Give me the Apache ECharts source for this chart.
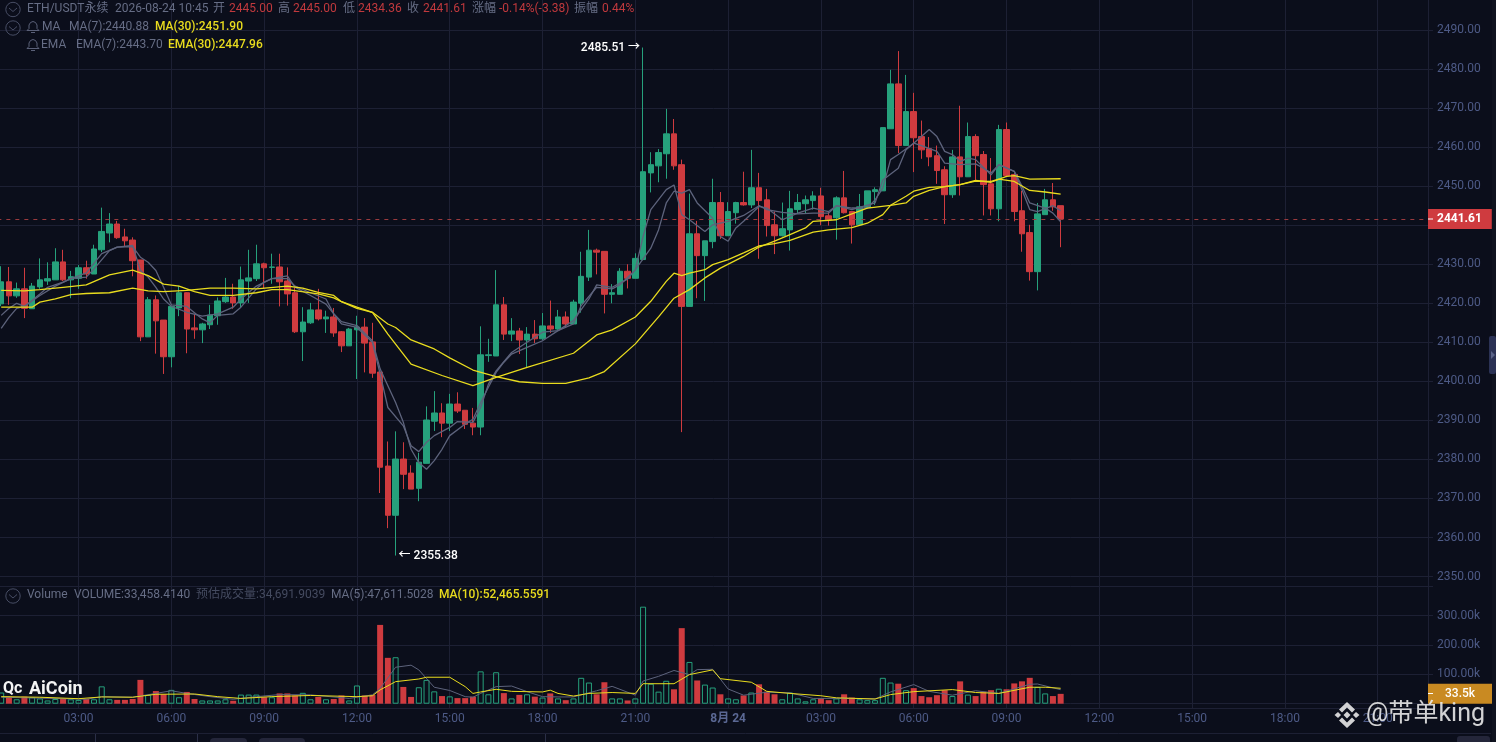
<!DOCTYPE html>
<html><head><meta charset="utf-8">
<style>html,body{margin:0;padding:0;background:#0b0e1b;overflow:hidden}#c{width:1496px;height:742px}</style>
<script src="https://cdn.jsdelivr.net/npm/echarts@6/dist/echarts.min.js"></script>
</head><body><div id="c"></div>
<script>
// ---- data (15-minute candles from 08-23 00:30) ----
const opens=[2419.85,2425.5,2421.9,2423.7,2418.6,2424.2,2425.7,2426,2430.6,2426,2426.4,2429.1,2427.5,2433.7,2438,2440.3,2437,2436.2,2431.1,2411.4,2420.9,2415.7,2406.3,2418.8,2422.7,2413.7,2413.2,2414.5,2416.8,2420.4,2421.6,2420.1,2425.7,2426.3,2430.1,2429.2,2429.3,2425.7,2422.7,2412.7,2415,2418.3,2416,2416.5,2412.7,2409.1,2413.2,2413.9,2410.1,2402.4,2378.3,2365.7,2380.1,2376.5,2372.6,2379,2389.8,2391.9,2389.3,2394.2,2392.6,2389.3,2388.3,2406.6,2406.5,2419.6,2412.1,2412.9,2410.6,2412.1,2410.9,2414.2,2413.4,2416.5,2414.7,2420,2426.7,2433.6,2433.3,2422.3,2422.3,2428.2,2426.4,2431.2,2453.4,2455.2,2458.3,2463.4,2455.5,2419.2,2437.8,2432.2,2435.8,2445.8,2437.3,2443.2,2445.8,2445.2,2449.6,2446.5,2440.1,2437.3,2438.8,2444,2445.5,2446.3,2447.5,2442.4,2441.9,2447,2443.5,2440.1,2444.5,2448.6,2448.8,2464.7,2476.2,2460.4,2469.1,2462.7,2459.6,2457.8,2454.2,2447.8,2457.5,2452.4,2462.7,2458.1,2450.6,2444.2,2464.5,2453,2443.7,2438.1,2428.1,2442.7,2446.5,2445];
const closes=[2425.5,2421.9,2423.7,2418.7,2424.4,2426,2426.3,2430.6,2426,2426.8,2429.1,2427.5,2433.9,2438.4,2440.3,2436.8,2436,2430.9,2411.4,2420.9,2415.5,2406.3,2419.2,2422.7,2413.4,2413.2,2414.7,2417,2420.6,2421.6,2420.1,2426,2426.5,2430.1,2429.1,2429.3,2425.5,2422.4,2412.7,2415.2,2418.3,2416,2416.5,2412.4,2409.1,2413.4,2413.9,2409.8,2402.1,2378,2365.7,2380.1,2376.2,2372.4,2379.3,2390.1,2391.9,2389.3,2394.2,2392.4,2389,2388.3,2406.8,2406.8,2419.6,2412.1,2412.9,2410.6,2412.1,2410.9,2414.2,2413.4,2416.5,2414.7,2420.3,2426.9,2433.6,2433.1,2422.3,2422.7,2428.2,2426.4,2431.5,2453.7,2455.5,2458.6,2463.4,2455.2,2419.2,2437.8,2432.2,2436,2445.8,2437.3,2443.5,2445.8,2445.2,2449.6,2446.3,2439.9,2437.3,2439.1,2444.2,2445.8,2446.5,2447.5,2442.2,2441.4,2447,2443.2,2440.1,2444.7,2448.8,2449.1,2465,2476.2,2460.4,2469.1,2462.4,2459.3,2457.5,2454,2447.8,2457.5,2452.4,2462.7,2457.8,2450.4,2444.2,2464.5,2452.7,2443.5,2437.8,2428.1,2442.9,2446.5,2444.7,2441.61];
const lows=[2419.25,2419.6,2421.4,2416.2,2418.6,2423.7,2424.7,2426,2425.7,2421.3,2423.7,2426.3,2427.5,2433.1,2435.6,2436.5,2434.4,2426.9,2410.3,2411.4,2407.1,2401.9,2403.6,2416.7,2407.2,2410.9,2409.8,2413.4,2414.5,2420.1,2418.6,2419,2420.1,2425.7,2423.7,2425,2419.2,2419.4,2412.4,2405.2,2414.7,2415.6,2412.4,2411.4,2407.5,2409.1,2400.6,2402.3,2400.9,2371.4,2362.4,2355.38,2372.4,2372.4,2369.3,2379,2387.3,2385.7,2387.3,2391.9,2387.8,2386.2,2386.2,2405,2406.5,2410.6,2410.3,2407,2403.6,2409.8,2410.6,2412.4,2413.2,2413.8,2414.7,2417.6,2425.7,2427.4,2417.4,2420,2422.3,2423.8,2426.4,2431,2448.4,2451,2451.9,2454.2,2387,2419.2,2421.3,2420.6,2434.1,2436.5,2437.3,2440.4,2445,2444.4,2431.4,2437.1,2432.6,2437.1,2433.5,2443,2443.1,2444,2440,2439.9,2436.3,2443,2435.3,2440.1,2444.5,2445.2,2448.8,2464.7,2458.5,2460.4,2453.6,2457,2455.1,2450.6,2440.3,2447,2447.6,2452.4,2451.6,2442.5,2442.5,2441,2452.5,2441,2433.2,2425.8,2423.3,2442.7,2443.7,2434.36];
const highs=[2429.5,2429.3,2425.3,2429.1,2425.2,2431.5,2430.5,2434.1,2433.7,2428.3,2429.8,2430.9,2435,2444.5,2443.1,2441.1,2439.1,2436.9,2431.1,2421.6,2422,2415.7,2419.2,2424.5,2422.8,2417.3,2415,2419.6,2421.5,2426.5,2425,2429.4,2433.7,2435,2430.4,2432.7,2432.7,2429.2,2423.9,2419,2420.1,2423.7,2418.1,2418.8,2412.9,2413.7,2416.8,2416.2,2415,2402.4,2384.6,2387.2,2384.4,2378.5,2381.7,2393.6,2397.5,2394.4,2396.8,2397.2,2392.6,2393.2,2414.1,2410.9,2428.5,2421.6,2416.2,2413.7,2413.9,2415.7,2417.5,2420.7,2418.3,2417.9,2420.9,2433.2,2438.8,2434,2433.3,2424.9,2429,2430,2432.8,2485.51,2458.7,2459.5,2469.8,2467.2,2456.8,2448.1,2441.1,2436,2451.9,2448.5,2445.9,2446,2453.7,2459.3,2453.4,2449.3,2443.5,2445.8,2448.8,2448,2447.6,2448.7,2449.6,2443.5,2447.4,2453.9,2443.5,2448,2448.8,2449.7,2465,2479.8,2484.6,2478.5,2473.9,2466.8,2462.6,2460.4,2455.1,2459.3,2470.6,2466.3,2463.3,2459,2457.2,2465.7,2466.3,2453.5,2448.8,2440.1,2445.7,2449.3,2450.8,2445];
const volumes=[38000,24000,15000,24000,22000,18000,11000,16000,16000,15000,13000,16000,15000,59000,15000,13000,13000,16000,81000,30000,43000,32000,47000,22000,40000,16000,11000,11000,11000,15000,10000,31000,31000,31000,22000,22000,35000,35000,28000,37000,15000,23000,15000,16000,28000,11000,62000,28000,30000,268000,156000,158000,57000,23000,56000,81000,42000,26000,25000,19000,19000,24000,110000,32000,107000,36000,18000,30000,32000,24000,21000,35000,18000,12000,18000,88000,72000,32000,73000,18000,18000,11000,18000,330000,68000,41000,78000,49000,257000,142000,79000,65000,55000,32000,18000,15000,28000,38000,66000,41000,32000,15000,38000,18000,8000,15000,18000,12000,18000,32000,21000,15000,12000,12000,88000,72000,68000,46000,53000,26000,22000,29000,46000,26000,76000,31000,26000,41000,46000,51000,49000,69000,76000,88000,57000,35000,26000,33458];
// indicator lines, read as [candle index, value] at the points where they bend
const ma7=[[0,2413.6],[1,2416.4],[2,2418.7],[3,2419.2],[5,2422.4],[6,2424.1],[8,2425.4],[9,2426.3],[11,2426.7],[12,2428.8],[14,2433.5],[15,2434.4],[17,2434.5],[18,2431.8],[19,2430.5],[20,2428.4],[21,2424.1],[22,2419.6],[24,2419.2],[26,2416],[27,2415],[28,2416.9],[30,2417.3],[31,2419],[33,2423.7],[34,2425.4],[35,2426.3],[37,2427],[38,2424.1],[40,2422],[42,2419.8],[43,2417.3],[44,2415.3],[46,2414.3],[48,2410.4],[49,2403.2],[50,2398.9],[51,2394.6],[52,2389.5],[53,2382.6],[54,2379.2],[55,2377.5],[56,2379.7],[57,2382.6],[58,2386.1],[60,2389.1],[61,2390.3],[62,2394.6],[63,2398.5],[64,2402.3],[65,2404.9],[66,2407],[68,2408.7],[70,2410.4],[72,2413],[74,2414.7],[75,2419.4],[77,2424.1],[79,2423.7],[80,2424.7],[82,2428.6],[84,2434.1],[85,2438.8],[86,2445.7],[87,2448.7],[88,2448.2],[89,2449.1],[90,2445.7],[92,2441.8],[93,2437.1],[94,2435.9],[95,2439.3],[96,2441],[98,2444.8],[99,2444.4],[101,2441.4],[103,2443.1],[105,2444.4],[107,2443.5],[108,2445],[110,2444],[113,2445.7],[114,2451.6],[116,2454.6],[117,2459.3],[118,2461],[120,2464.5],[121,2462.7],[122,2458.9],[123,2458.1],[124,2456.3],[125,2457.2],[126,2456.8],[128,2452.9],[129,2455.5],[131,2453.8],[132,2450],[133,2445.7],[135,2444.4],[136,2443.1],[137,2440.88]];
const ema7=[[0,2416.9],[1,2418.7],[2,2420],[3,2419.2],[5,2422],[7,2424.4],[9,2426.3],[11,2427.8],[13,2432.7],[15,2434.4],[17,2434.8],[18,2428.4],[19,2426.7],[20,2424.1],[21,2421.1],[22,2419.2],[24,2417.7],[26,2416.7],[28,2417.3],[30,2419],[31,2421.1],[33,2424.4],[35,2426.3],[37,2426.3],[38,2424.4],[40,2422.7],[42,2421.1],[43,2417.3],[44,2414.7],[46,2413.8],[48,2410],[49,2401.9],[50,2393.3],[52,2388.6],[53,2383.5],[54,2382],[55,2384.4],[56,2386.1],[58,2388.2],[59,2389.7],[61,2389.5],[62,2393.3],[63,2399.3],[64,2402.7],[66,2407.4],[68,2410],[70,2412.6],[72,2413],[74,2415.6],[76,2421.1],[77,2424.7],[79,2424.1],[81,2426.2],[82,2428.6],[83,2437.1],[84,2444],[86,2449.1],[87,2450.3],[88,2442.7],[89,2441.4],[91,2438.4],[92,2440.1],[94,2441],[96,2442.5],[98,2445],[99,2444],[101,2443.3],[103,2442.9],[105,2443.1],[107,2443.1],[108,2445],[110,2444.4],[112,2444.4],[113,2446.5],[114,2449.5],[115,2456.8],[116,2458.1],[118,2461],[119,2460.4],[121,2458.9],[122,2455.9],[124,2455.5],[126,2455.7],[127,2454.6],[128,2453.4],[129,2455.5],[131,2453.8],[132,2449.1],[133,2444],[134,2443.5],[136,2445],[137,2443.7]];
const ma30=[[0,2423.3],[3,2423.2],[5,2423.5],[8,2424.1],[11,2424.7],[14,2427.3],[17,2428.5],[19,2427.1],[21,2424.9],[23,2424.4],[25,2423],[27,2422],[30,2422],[33,2422.7],[35,2423.5],[37,2423.5],[41,2422.4],[43,2421.4],[44,2420.4],[46,2419],[48,2417.7],[50,2414.7],[51,2413.8],[53,2410.6],[56,2408.3],[58,2406],[61,2402.9],[64,2401.2],[67,2399.9],[70,2399.5],[73,2399.5],[76,2400.9],[78,2402.5],[82,2409.6],[85,2416.5],[87,2421.3],[89,2423.5],[91,2426.5],[93,2429],[96,2432],[98,2434.4],[100,2435.9],[102,2437.6],[104,2439.3],[105,2441],[108,2441.4],[110,2442.9],[112,2444.4],[115,2445.1],[117,2445.7],[118,2447.4],[120,2448.9],[122,2449.9],[124,2450.4],[126,2451.5],[128,2451],[130,2452.5],[131,2452.7],[133,2451.8],[137,2451.9]];
const ema30=[[0,2419],[2,2419],[4,2419],[5,2420.3],[7,2421.1],[9,2422.2],[11,2422.5],[14,2422.7],[17,2423.9],[19,2423.2],[21,2423],[24,2423.3],[27,2423.9],[30,2423.9],[33,2423.7],[37,2424.4],[39,2423.9],[41,2422.8],[43,2422],[44,2420.4],[46,2418.7],[48,2417.7],[50,2412.1],[53,2404.4],[57,2401.5],[61,2398.9],[64,2401],[68,2403.6],[74,2407.2],[77,2411.9],[79,2413.2],[82,2416.5],[84,2420.5],[86,2425.6],[87,2427.7],[88,2427.1],[89,2427.7],[91,2428.6],[92,2429.9],[94,2431.2],[96,2432.9],[98,2434.7],[100,2435.3],[102,2436.1],[105,2438.2],[107,2438.8],[110,2439.4],[112,2440.5],[114,2442.7],[115,2445.1],[117,2447.4],[118,2448.7],[120,2449.7],[122,2449.9],[124,2450.4],[126,2451.3],[128,2451.2],[129,2451.8],[131,2451.2],[133,2448.9],[135,2448.5],[137,2447.96]];
const volMa5=[[0,22000],[5,19000],[11,15000],[13,24000],[17,22000],[20,35000],[22,44000],[24,35000],[27,24000],[30,15000],[33,24000],[36,31000],[40,30000],[45,18000],[48,30000],[49,52000],[51,124000],[53,131000],[54,115000],[56,56000],[58,45000],[60,24000],[61,22000],[62,35000],[64,58000],[66,60000],[68,41000],[70,24000],[72,23000],[74,23000],[77,44000],[79,59000],[82,29000],[83,77000],[85,93000],[87,113000],[89,99000],[90,116000],[92,117000],[94,50000],[96,29000],[99,39000],[102,37000],[105,18000],[109,18000],[113,16000],[115,40000],[118,65000],[120,42000],[123,29000],[126,44000],[129,35000],[133,66000],[134,67000],[137,47611]];
const volMa10=[[0,24000],[5,22000],[10,17000],[13,23000],[17,22000],[20,32000],[25,33000],[28,24000],[31,18000],[35,24000],[40,28000],[46,24000],[48,27000],[49,47000],[51,75000],[54,84000],[55,90000],[58,90000],[60,58000],[61,35000],[62,40000],[64,49000],[66,42000],[70,40000],[71,46000],[72,35000],[74,26000],[76,35000],[79,38000],[82,35000],[83,68000],[87,68000],[89,99000],[92,115000],[93,85000],[97,73000],[99,42000],[102,35000],[106,27000],[108,20000],[113,16000],[115,31000],[118,41000],[123,48000],[126,38000],[129,35000],[133,56000],[135,56000],[137,52465]];
const priceTicks=[2350,2360,2370,2380,2390,2400,2410,2420,2430,2440,2450,2460,2470,2480,2490];
const volumeTicks=[100000,200000,300000];
const lastPrice=2441.61, lastVolume=33458.414, maxPoint=[83,2485.51], minPoint=[51,2355.38];
// time categories: 00:30 on 23 Aug forward, including the empty future slots
const categories=[];
for(let i=0,m=30;i<185;i++,m+=15){const h=Math.floor(m/60)%24,mm=m%60;categories.push(String(h).padStart(2,'0')+':'+String(mm).padStart(2,'0'));}

const up='#26a17c',down='#cf3b3f',yellow='#e9dc1e',grey='#5d637c',gridC='#1d2034',labelC='#4d5a86',textC='#666d85';
const FONT='Roboto,"Noto Sans CJK SC",sans-serif';
const isMajor=i=>{const c=categories[i];return c.endsWith(':00')&&parseInt(c)%3===0;};
const timeLabel=(v,i)=>{if(!isMajor(i))return '';return v==='00:00'?'{b|8月 24}':v;};
const candles=opens.map((o,i)=>[o,closes[i],lows[i],highs[i]]);
const volBars=volumes.map((v,i)=>closes[i]>=opens[i]
  ?{value:v,itemStyle:{color:'rgba(0,0,0,0)',borderColor:up,borderWidth:1}}
  :{value:v,itemStyle:{color:down,borderColor:down,borderWidth:0}});
const line=(name,data,color,x,y,w)=>({type:'line',name,data,xAxisIndex:x,yAxisIndex:y,showSymbol:false,symbol:'none',z:5,
  lineStyle:{color,width:w||1.3},itemStyle:{color},silent:true});

// chrome
const T=(text,x,y,fill,bold)=>({type:'text',x,y,z:50,silent:true,style:{text,fill,font:(bold?'500 ':'')+'12px '+FONT,textVerticalAlign:'middle'}});
const chev=(cx,cy)=>[{type:'circle',z:50,shape:{cx,cy,r:7.2},style:{fill:'none',stroke:'#474d64',lineWidth:1},silent:true},
  {type:'polyline',z:50,shape:{points:[[cx-4,cy-1.5],[cx,cy+2],[cx+4,cy-1.5]]},style:{fill:'none',stroke:'#474d64',lineWidth:1},silent:true}];
const bell=(cx,cy)=>[{type:'polyline',z:50,shape:{points:[[cx-6,cy+3.5],[cx-4,cy+1.5],[cx-4,cy-2],[cx-2.5,cy-4.5],[cx,cy-5.5],[cx+2.5,cy-4.5],[cx+4,cy-2],[cx+4,cy+1.5],[cx+6,cy+3.5],[cx-6,cy+3.5]]},style:{fill:'none',stroke:'#5a6078',lineWidth:1},silent:true},
  {type:'line',z:50,shape:{x1:cx-2,y1:cy+5.5,x2:cx+2,y2:cy+5.5},style:{stroke:'#5a6078',lineWidth:1},silent:true}];
const wm='rgba(238,238,238,0.88)';
const poly=p=>({type:'polygon',shape:{points:p},style:{fill:wm},silent:true,z:60});
const bx=1347,by=715;
const graphics=[
 ...chev(13,9.5),...chev(13,28),...bell(33,27),...bell(33,45),...chev(13,596),
 T('ETH/USDT永续',27,8.5,textC),T('2026-08-24 10:45',115,8.5,textC),
 T('开',213,8.5,textC),T('2445.00',229,8.5,'#c0393d'),T('高',278,8.5,textC),T('2445.00',293,8.5,'#c0393d'),
 T('低',343,8.5,textC),T('2434.36',358,8.5,'#c0393d'),T('收',407,8.5,textC),T('2441.61',423,8.5,'#c0393d'),
 T('涨幅',472,8.5,textC),T('-0.14%(-3.38)',499,8.5,'#c0393d'),T('振幅',574,8.5,textC),T('0.44%',602,8.5,'#c0393d'),
 T('MA',42,27,textC),T('MA(7):2440.88',69,27,textC),T('MA(30):2451.90',155,27,yellow,true),
 T('EMA',41,45,textC),T('EMA(7):2443.70',76,45,textC),T('EMA(30):2447.96',168,45,yellow,true),
 T('Volume',27,594.5,textC),T('VOLUME:33,458.4140',74,594.5,textC),T('预估成交量:34,691.9039',196,594.5,'#454b60'),
 T('MA(5):47,611.5028',331,594.5,textC),T('MA(10):52,465.5591',439,594.5,yellow,true),
 {type:'line',shape:{x1:0,y1:733.5,x2:1491,y2:733.5},style:{stroke:gridC,lineWidth:1},silent:true},
 {type:'line',shape:{x1:95.5,y1:734,x2:95.5,y2:742},style:{stroke:'#2b2f47',lineWidth:1},silent:true},
 {type:'line',shape:{x1:197.5,y1:734,x2:197.5,y2:742},style:{stroke:'#2b2f47',lineWidth:1},silent:true},
 {type:'line',shape:{x1:545.5,y1:734,x2:545.5,y2:742},style:{stroke:'#2b2f47',lineWidth:1},silent:true},
 {type:'rect',shape:{x:210,y:738,width:37,height:10,r:4},style:{fill:'#24263a'},silent:true},
 {type:'rect',shape:{x:259,y:738,width:46,height:10,r:4},style:{fill:'#24263a'},silent:true},
 {type:'rect',shape:{x:1457,y:736,width:33,height:10,r:3},style:{fill:'#24263a'},silent:true},
 {type:'rect',z:40,shape:{x:1492,y:0,width:4,height:742},style:{fill:'#10131f'},silent:true},
 {type:'rect',z:41,shape:{x:1489,y:336,width:7,height:38,r:2},style:{fill:'#2b3255'},silent:true},
 {type:'polygon',z:42,shape:{points:[[1491,351],[1495,355],[1491,359]]},style:{fill:'#5a6388'},silent:true},
 {type:'line',z:50,shape:{x1:1428,y1:219,x2:1433,y2:219},style:{stroke:'#fff',lineWidth:1},silent:true},
 {type:'line',z:50,shape:{x1:1428,y1:693.5,x2:1433,y2:693.5},style:{stroke:'#fff',lineWidth:1},silent:true},
 // AiCoin logo
 {type:'text',x:3,y:689,silent:true,z:50,style:{text:'Qc',fill:'#f4f4f4',font:'bold 16px '+FONT,textVerticalAlign:'middle'}},
 {type:'text',x:29,y:689,silent:true,z:50,style:{text:'AiCoin',fill:'#f4f4f4',font:'bold 18px '+FONT,textVerticalAlign:'middle'}},
 // watermark
 poly([[bx,by-3.5],[bx+3.5,by],[bx,by+3.5],[bx-3.5,by]]),
 poly([[bx-9,by-3],[bx-6,by],[bx-9,by+3],[bx-12.5,by]]),
 poly([[bx+9,by-3],[bx+12.5,by],[bx+9,by+3],[bx+6,by]]),
 poly([[bx,by-13],[bx+8,by-5.5],[bx+5,by-2.5],[bx,by-7.5],[bx-5,by-2.5],[bx-8,by-5.5]]),
 poly([[bx,by+13],[bx+8,by+5.5],[bx+5,by+2.5],[bx,by+7.5],[bx-5,by+2.5],[bx-8,by+5.5]]),
 {type:'text',x:1366,y:715,silent:true,z:60,style:{text:'@带单king',fill:wm,font:'25px Roboto,"Noto Sans CJK SC",sans-serif',textVerticalAlign:'middle'}}
];

const chart=echarts.init(document.getElementById('c'),null,{renderer:'canvas'});
const xBase={type:'category',data:categories,boundaryGap:true,axisLine:{show:false},axisTick:{show:false},
  splitLine:{show:true,alignWithLabel:true,interval:(i)=>isMajor(i),lineStyle:{color:gridC,width:1}}};
chart.setOption({
 animation:false,backgroundColor:'#0b0e1b',textStyle:{fontFamily:FONT},
 grid:[{outerBoundsMode:'none',left:-2.67,width:1430.67,top:-9.04,height:624.64},{outerBoundsMode:'none',left:-2.67,width:1430.67,top:586.1,height:117.6}],
 xAxis:[
  {...xBase,gridIndex:0,axisLabel:{show:false}},
  {...xBase,gridIndex:1,
   axisLine:{show:true,onZero:false,lineStyle:{color:gridC}},offset:4.3,
   axisTick:{show:true,inside:true,length:4.3,alignWithLabel:true,interval:(i)=>isMajor(i),lineStyle:{color:gridC}},
   axisLabel:{show:true,interval:(i)=>isMajor(i),formatter:timeLabel,color:labelC,fontSize:12,margin:5,hideOverlap:false,
     rich:{b:{fontWeight:'bold',color:'#5b6894',fontSize:12}}}}
 ],
 yAxis:[
  {type:'value',gridIndex:0,position:'right',min:2340,max:2500,interval:10,
   axisLine:{show:true,lineStyle:{color:gridC}},axisTick:{show:true,length:5,lineStyle:{color:gridC}},
   axisLabel:{margin:9,padding:[2,0,0,0],color:labelC,fontSize:12,formatter:v=>priceTicks.includes(v)?v.toFixed(2):''},
   splitLine:{show:true,lineStyle:{color:gridC,width:1}}},
  {type:'value',gridIndex:1,position:'right',min:0,max:400000,interval:100000,
   axisLine:{show:true,lineStyle:{color:gridC}},axisTick:{show:true,length:5,lineStyle:{color:gridC}},
   axisLabel:{margin:9,color:labelC,fontSize:12,formatter:v=>volumeTicks.includes(v)?(v/1000).toFixed(2)+'k':''},
   splitLine:{show:true,lineStyle:{color:gridC,width:1}}}
 ],
 series:[
  {type:'candlestick',data:candles,xAxisIndex:0,yAxisIndex:0,barWidth:6,z:3,silent:true,
   itemStyle:{color:up,color0:down,borderColor:up,borderColor0:down,borderWidth:1},
   markLine:{silent:true,symbol:'none',animation:false,precision:2,
    lineStyle:{color:'#9a3a3e',type:[4,5],width:1},
    label:{show:true,position:'end',distance:0,formatter:'2441.61',color:'#fff',fontWeight:'bold',fontSize:12,
      backgroundColor:down,padding:[0,10,0,9],lineHeight:20,align:'left',verticalAlign:'middle'},
    data:[{yAxis:lastPrice}]},
   markPoint:{silent:true,symbol:'circle',symbolSize:0,animation:false,
    data:[
     {coord:maxPoint,label:{show:true,position:'left',distance:3,formatter:'2485.51 →',color:'#fff',fontWeight:500,fontSize:12}},
     {coord:minPoint,label:{show:true,position:'right',distance:3,formatter:'← 2355.38',color:'#fff',fontWeight:500,fontSize:12}}
    ]}},
  line('MA7',ma7,grey,0,0),line('EMA7',ema7,grey,0,0),line('MA30',ma30,yellow,0,0),line('EMA30',ema30,yellow,0,0),
  {type:'bar',data:volBars,xAxisIndex:1,yAxisIndex:1,barWidth:6,z:3,silent:true,
   markLine:{silent:true,symbol:'none',animation:false,lineStyle:{color:'rgba(0,0,0,0)'},
    label:{show:true,position:'end',distance:0,formatter:'33.5k',color:'#fff',fontSize:12,fontWeight:500,
      backgroundColor:'#c98a22',padding:[0,17,0,17],lineHeight:20,align:'left',verticalAlign:'middle'},
    data:[{yAxis:lastVolume}]}},
  line('VolMA5',volMa5,grey,1,1,1),line('VolMA10',volMa10,yellow,1,1,1)
 ],
 graphic:graphics
});
</script></body></html>
